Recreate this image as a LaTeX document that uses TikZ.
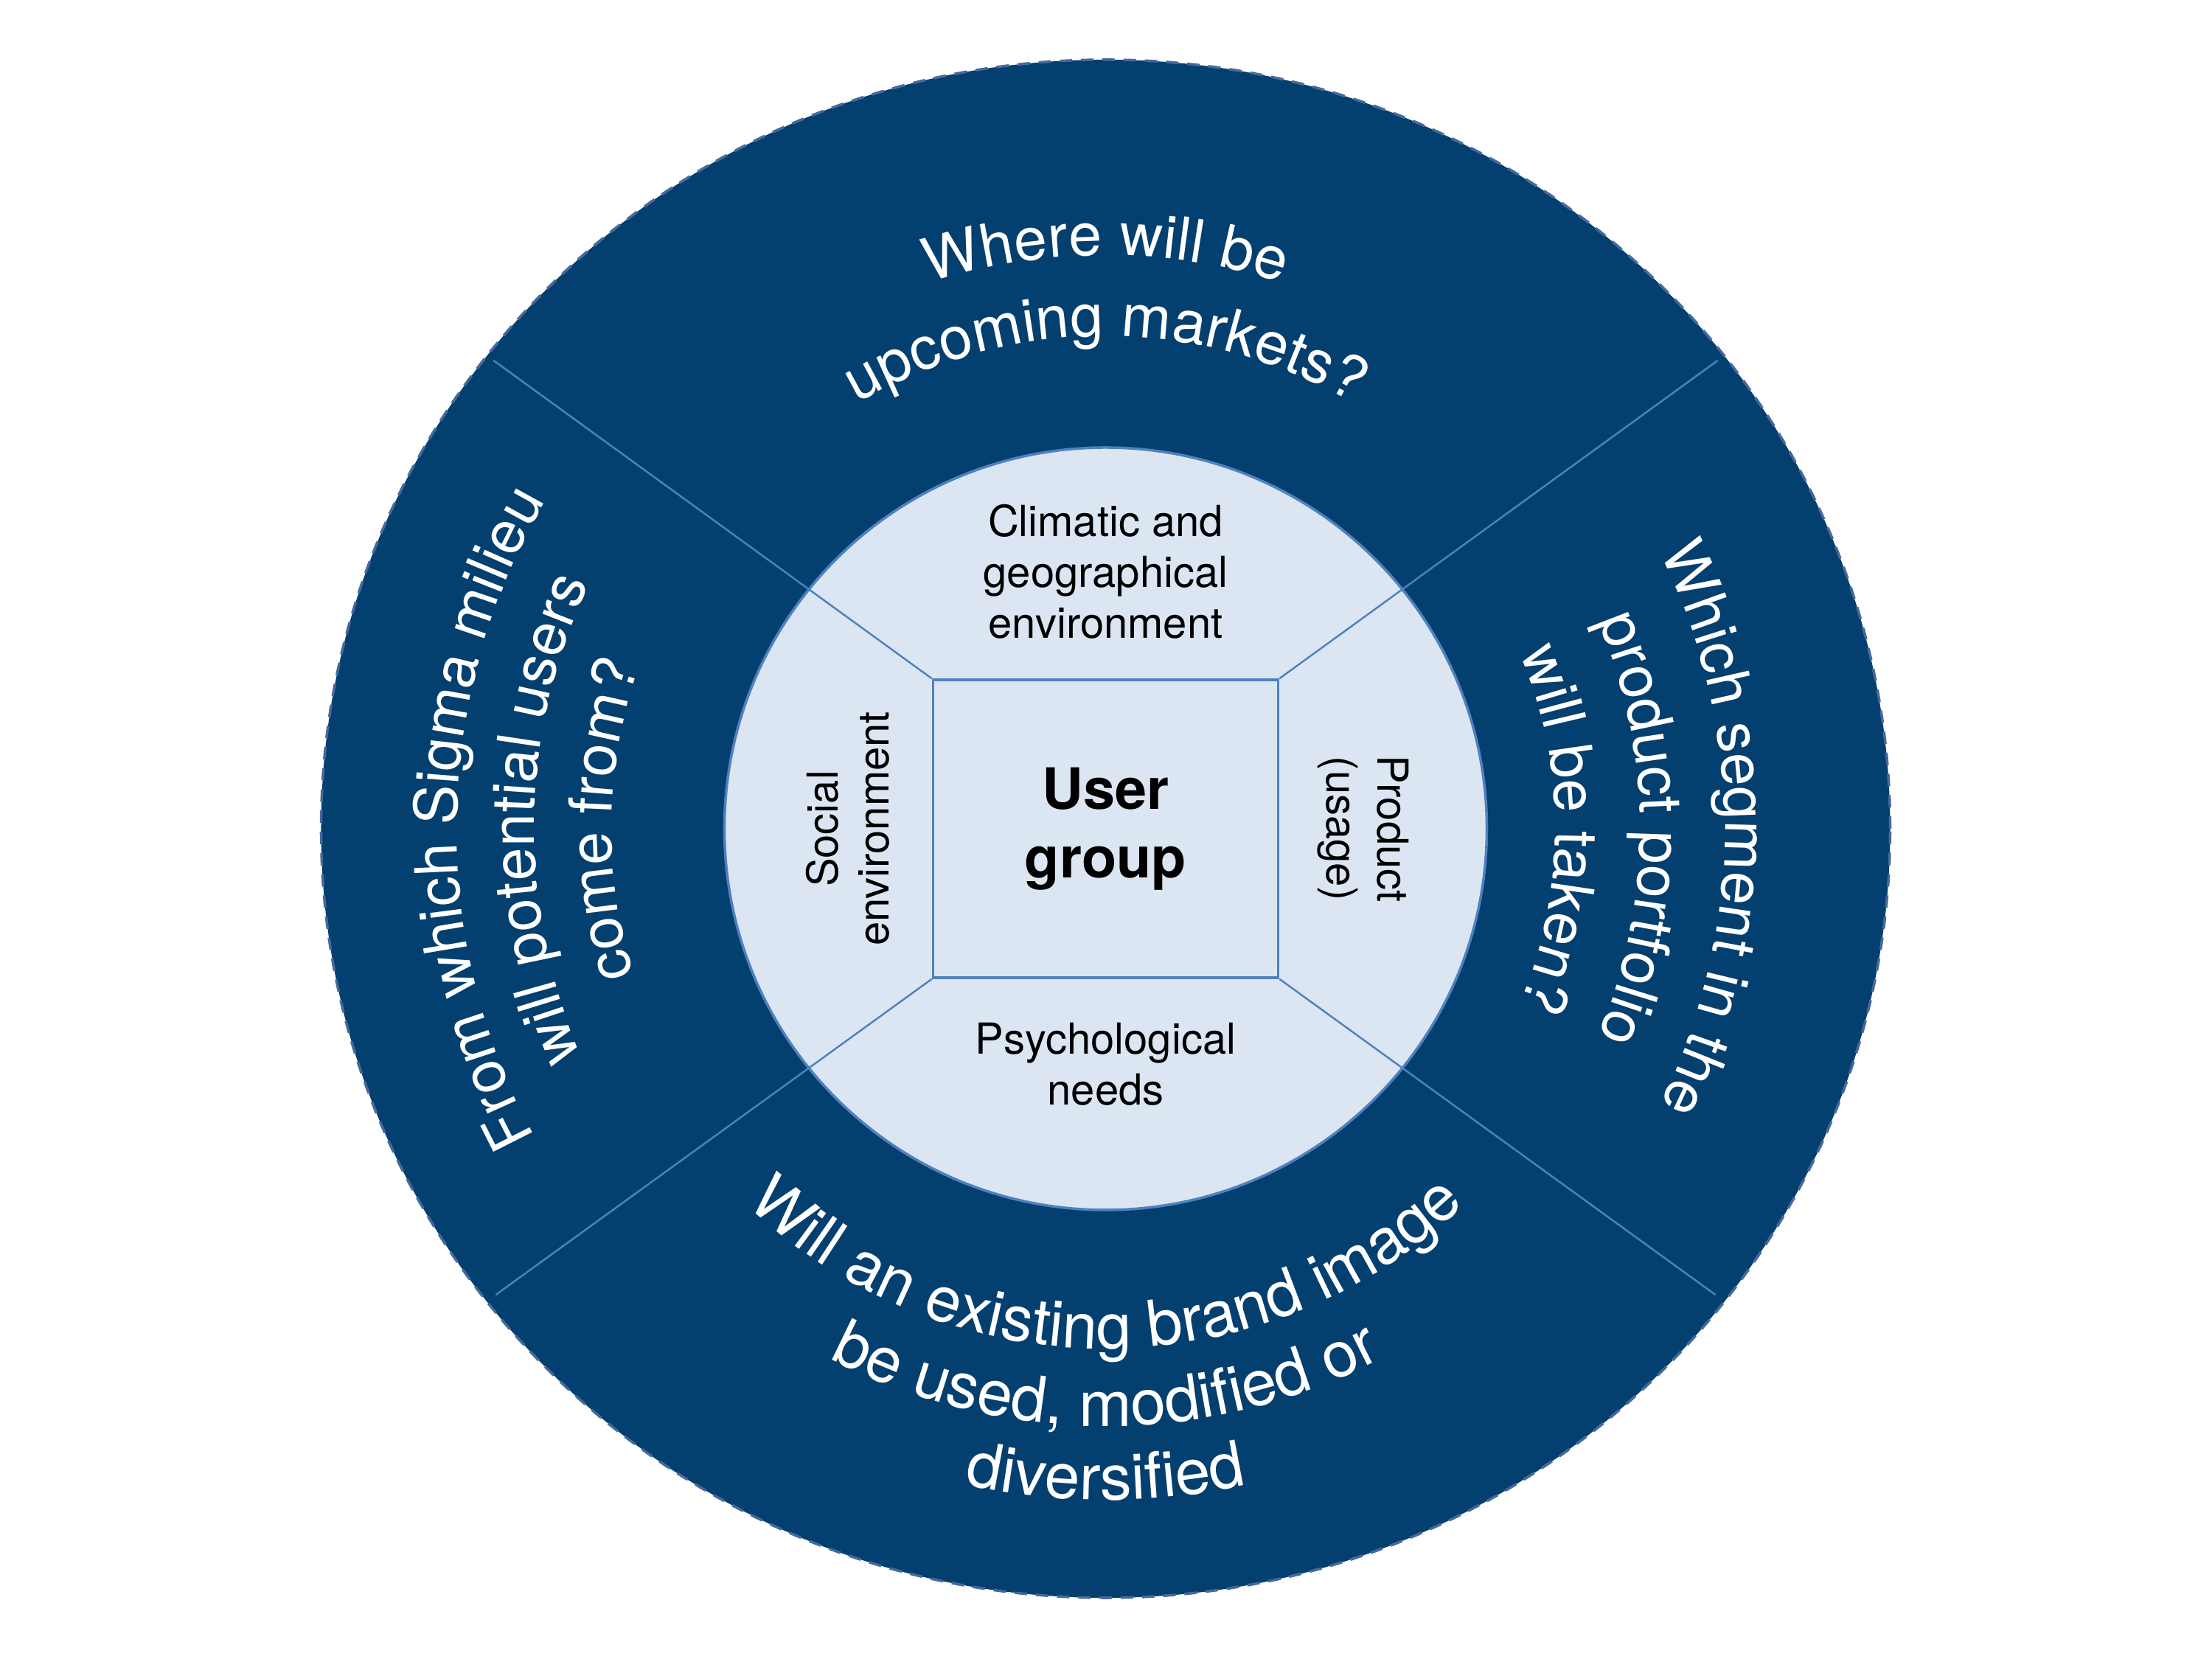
\documentclass[tikz,border=0pt]{standalone}
\usepackage{fontspec}
\setmainfont{TeX Gyre Heros}
\usetikzlibrary{decorations.text}
\definecolor{navy}{HTML}{033F6F}
\definecolor{paleblue}{HTML}{DCE6F2}
\definecolor{spokeblue}{HTML}{4F81BD}
\definecolor{rimblue}{HTML}{46699B}
\newcommand{\questionfont}{\fontsize{23}{28}\selectfont}
\newcommand{\brandfont}{\fontsize{24.5}{29}\selectfont}
\tikzset{
  rim/.style={fill=navy,draw=rimblue,line width=1pt,dash pattern=on 4.8pt off 3.4pt},
  core/.style={circle,draw=spokeblue,line width=1pt,fill=paleblue,
    minimum size=10.34cm,inner sep=0pt},
  hub/.style={rectangle,draw=spokeblue,line width=1pt,fill=paleblue,
    minimum width=4.68cm,minimum height=4.04cm,align=center,
    font=\fontsize{22}{26.5}\selectfont\bfseries},
  spoke/.style={draw=spokeblue,line width=.7pt},
  facet/.style={align=center,font=\fontsize{16.5}{19.6}\selectfont,text=black},
  question/.style={decorate,decoration={text along path,text align=center,
    text color=white,text={|\questionfont|#1}}},
  brandq/.style={decorate,decoration={text along path,text align=center,
    text color=white,text={|\brandfont|#1}}},
}
\begin{document}
\begin{tikzpicture}
\useasboundingbox (-14.995,-11.26) rectangle (15.005,11.24);
% outer ring
\draw[rim] (0,0) ellipse [x radius=10.64cm, y radius=10.43cm];
\coordinate (nwEnd) at (-8.3,6.35);
\coordinate (neEnd) at (8.3,6.35);
\coordinate (swEnd) at (-8.27,-6.32);
\coordinate (seEnd) at (8.27,-6.32);
% inner disc and centre box
\node[core] (core) at (0,0) {};
\node[hub] (group) at (0,0) {User\\group};
\draw[spoke] (group.north west) -- (nwEnd);
\draw[spoke] (group.north east) -- (neEnd);
\draw[spoke] (group.south west) -- (swEnd);
\draw[spoke] (group.south east) -- (seEnd);
% the four factors
\node[facet] (climate) at (0,3.49) {Climatic and\\geographical\\environment};
\node[facet] (psyche) at (0,-3.19) {Psychological\\needs};
\node[facet,rotate=90] (social) at (-3.5,0) {Social\\environment};
\node[facet,rotate=-90] (product) at (3.49,0) {Product\\(usage)};
% questions along the ring
\path[question={Where will be}] (130:7.78) arc[start angle=130,end angle=50,radius=7.78];
\path[question={upcoming markets?}] (140:6.68) arc[start angle=140,end angle=40,radius=6.68];
\path[question={From which Sigma milieu}] (234:8.8) arc[start angle=234,end angle=124,radius=8.8];
\path[question={will potential users}] (234:7.75) arc[start angle=234,end angle=124,radius=7.75];
\path[question={come from?}] (234:6.7) arc[start angle=234,end angle=124,radius=6.7];
\path[question={Which segment in the}] (55:8.4) arc[start angle=55,end angle=-55,radius=8.4];
\path[question={product portfolio}] (55:7.25) arc[start angle=55,end angle=-55,radius=7.25];
\path[question={will be taken?}] (55:6.1) arc[start angle=55,end angle=-55,radius=6.1];
\path[brandq={Will an existing brand image}] (195:7.05) arc[start angle=195,end angle=345,radius=7.05];
\path[brandq={be used, modified or}] (205:8.1) arc[start angle=205,end angle=335,radius=8.1];
\path[brandq={diversified}] (215:9.1) arc[start angle=215,end angle=325,radius=9.1];
\end{tikzpicture}
\end{document}
